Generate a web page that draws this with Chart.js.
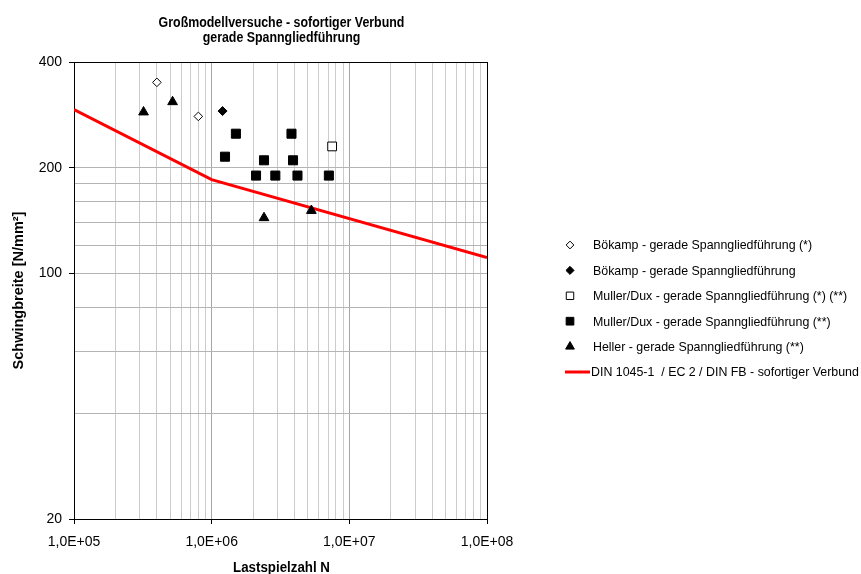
<!DOCTYPE html>
<html>
<head>
<meta charset="utf-8">
<script src="https://cdn.jsdelivr.net/npm/chart.js@4/dist/chart.umd.min.js"></script>
<style>
  html, body { margin: 0; padding: 0; background: #fff; }
  #wrap { width: 861px; height: 574px; }
</style>
</head>
<body>
<div id="wrap"><canvas id="woehlerChart"></canvas></div>
<script>
// ========== DATEN ==========
const FONT = '"Liberation Sans", Arial, sans-serif';

const titleLines = ['Großmodellversuche - sofortiger Verbund', 'gerade Spanngliedführung'];
const xAxisTitle = 'Lastspielzahl N';
const yAxisTitle = 'Schwingbreite [N/mm²]';

// Bökamp (*) - offene Rauten
const boekampStarN = [4.0e5, 8.0e5];
const boekampStarS = [350, 280];

// Bökamp - volle Rauten
const boekampN = [1.2e6];
const boekampS = [290];

// Muller/Dux (*) (**) - offene Quadrate
const mullerStarN = [7.5e6];
const mullerStarS = [230];

// Muller/Dux (**) - volle Quadrate
const mullerN = [1.5e6, 3.8e6, 1.25e6, 2.4e6, 3.9e6, 2.1e6, 2.9e6, 4.2e6, 7.1e6];
const mullerS = [250, 250, 215, 210, 210, 190, 190, 190, 190];

// Heller (**) - Dreiecke
const hellerN = [3.2e5, 5.2e5, 2.4e6, 5.3e6];
const hellerS = [288, 308, 144, 151];

// DIN 1045-1 / EC 2 / DIN FB Wöhlerlinie
const dinN = [1e5, 1e6, 1e8];
const dinS = [293, 185, 111];

// Achsen
const xGridValues = [];
[1e5, 1e6, 1e7].forEach(d => { for (let m = 1; m < 10; m++) xGridValues.push(m * d); });
xGridValues.push(1e8);
const xLabelValues = [1e5, 1e6, 1e7, 1e8];
const yGridValues = [20, 40, 60, 80, 100, 120, 140, 160, 180, 200, 400];
const yLabelValues = [20, 100, 200, 400];

const legendLabels = [
    'Bökamp - gerade Spanngliedführung (*)',
    'Bökamp - gerade Spanngliedführung',
    'Muller/Dux - gerade Spanngliedführung (*) (**)',
    'Muller/Dux - gerade Spanngliedführung (**)',
    'Heller - gerade Spanngliedführung (**)',
    'DIN 1045-1  / EC 2 / DIN FB - sofortiger Verbund'
];

const toPoints = (xs, ys) => xs.map((x, i) => ({ x: x, y: ys[i] }));

const markerSets = [
    { pts: toPoints(boekampStarN, boekampStarS), style: 'rectRot', r: 4.3, fill: '#ffffff' },
    { pts: toPoints(boekampN, boekampS), style: 'rectRot', r: 4.5, fill: '#000000' },
    { pts: toPoints(mullerStarN, mullerStarS), style: 'rect', r: 6.2, fill: '#ffffff' },
    { pts: toPoints(mullerN, mullerS), style: 'rect', r: 6.4, fill: '#000000' },
    { pts: toPoints(hellerN, hellerS), style: 'triangle', r: 5.6, fill: '#000000' }
];

// ========== PLUGIN: Titel, Achsentitel, Legende ==========
const extrasPlugin = {
    id: 'extras',
    afterDraw(chart) {
        const ctx = chart.ctx;
        const a = chart.chartArea;
        ctx.save();

        // Titel zentriert über der Zeichenfläche (schmal wie im Original)
        ctx.fillStyle = '#000';
        ctx.font = 'bold 14px ' + FONT;
        ctx.textAlign = 'center';
        ctx.textBaseline = 'middle';
        const cx = (a.left + a.right) / 2 + 1;
        const squeeze = 0.885;
        titleLines.forEach((t, i) => {
            const w = ctx.measureText(t).width * squeeze;
            ctx.fillText(t, cx, 23 + i * 15, w);
        });

        // Achsentitel
        ctx.font = 'bold 14px ' + FONT;
        ctx.fillText(xAxisTitle, cx, 568, ctx.measureText(xAxisTitle).width * 0.95);
        ctx.save();
        ctx.translate(19, (a.top + a.bottom) / 2);
        ctx.rotate(-Math.PI / 2);
        ctx.font = 'bold 14.5px ' + FONT;
        ctx.fillText(yAxisTitle, 0, 0);
        ctx.restore();

        // Legende
        const lx = 570, tx = 593, y0 = 245, dy = 25.4;
        ctx.font = '12.4px ' + FONT;
        ctx.textAlign = 'left';
        markerSets.forEach((m, i) => {
            ctx.fillStyle = m.fill;
            ctx.strokeStyle = '#000';
            ctx.lineWidth = 1;
            const r = m.style === 'rect' ? m.r * 0.85 : m.r * 0.9;
            Chart.helpers.drawPoint(ctx, { pointStyle: m.style, radius: r, rotation: 0, borderWidth: 1 }, lx, y0 + i * dy);
            ctx.fillStyle = '#000';
            ctx.fillText(legendLabels[i], tx, y0 + i * dy + 1);
        });
        const ly = y0 + 5 * dy;
        ctx.strokeStyle = '#ff0000';
        ctx.lineWidth = 3;
        ctx.beginPath();
        ctx.moveTo(565, ly);
        ctx.lineTo(590, ly);
        ctx.stroke();
        ctx.fillStyle = '#000';
        ctx.fillText(legendLabels[5], 591, ly + 1);

        ctx.restore();
    }
};

// ========== CHART ==========
const datasets = markerSets.map((m, i) => ({
    type: 'scatter',
    label: legendLabels[i],
    data: m.pts,
    pointStyle: m.style,
    pointRadius: m.r,
    pointHoverRadius: m.r,
    pointBackgroundColor: m.fill,
    pointBorderColor: '#000000',
    pointBorderWidth: 1,
    showLine: false
}));

datasets.push({
    type: 'line',
    label: legendLabels[5],
    data: toPoints(dinN, dinS),
    borderColor: '#ff0000',
    borderWidth: 3,
    pointRadius: 0,
    fill: false,
    tension: 0
});

const isDecade = v => xLabelValues.some(d => Math.abs(v - d) < d * 1e-6);

const ctx = document.getElementById('woehlerChart').getContext('2d');
const woehlerChart = new Chart(ctx, {
    data: { datasets: datasets },
    options: {
        responsive: true,
        maintainAspectRatio: false,
        animation: false,
        layout: { padding: { left: 0, top: 62, right: 374, bottom: 0 } },
        plugins: {
            legend: { display: false },
            title: { display: false },
            tooltip: { enabled: false }
        },
        scales: {
            x: {
                type: 'logarithmic',
                min: 1e5,
                max: 1e8,
                afterBuildTicks: scale => { scale.ticks = xGridValues.map(v => ({ value: v })); },
                afterFit: scale => { scale.height = 55; },
                ticks: {
                    autoSkip: false,
                    maxRotation: 0,
                    color: '#000',
                    padding: 10,
                    font: { family: FONT, size: 14 },
                    callback: value => isDecade(value) ? '1,0E+0' + Math.round(Math.log10(value)) : ''
                },
                grid: {
                    color: c => {
                        const v = c.tick && c.tick.value;
                        if (v >= 1e8 * 0.999) return '#000000';
                        return isDecade(v) ? '#a6a6a6' : '#cccccc';
                    },
                    tickColor: c => isDecade(c.tick && c.tick.value) ? '#000000' : 'rgba(0,0,0,0)',
                    tickLength: 5,
                    lineWidth: 1
                },
                border: { display: true, color: '#000000', width: 1 },
                title: { display: false }
            },
            y: {
                type: 'logarithmic',
                min: 20,
                max: 400,
                afterBuildTicks: scale => { scale.ticks = yGridValues.map(v => ({ value: v })); },
                afterFit: scale => { scale.width = 74; },
                ticks: {
                    autoSkip: false,
                    color: '#000',
                    padding: 7,
                    font: { family: FONT, size: 14 },
                    callback: value => yLabelValues.includes(value) ? String(value) : ''
                },
                grid: {
                    color: c => {
                        const v = c.tick && c.tick.value;
                        return v === 400 ? '#000000' : '#b4b4b4';
                    },
                    tickColor: c => yLabelValues.includes(c.tick && c.tick.value) ? '#000000' : 'rgba(0,0,0,0)',
                    tickLength: 5,
                    lineWidth: 1
                },
                border: { display: true, color: '#000000', width: 1 },
                title: { display: false }
            }
        }
    },
    plugins: [extrasPlugin]
});
</script>
</body>
</html>
